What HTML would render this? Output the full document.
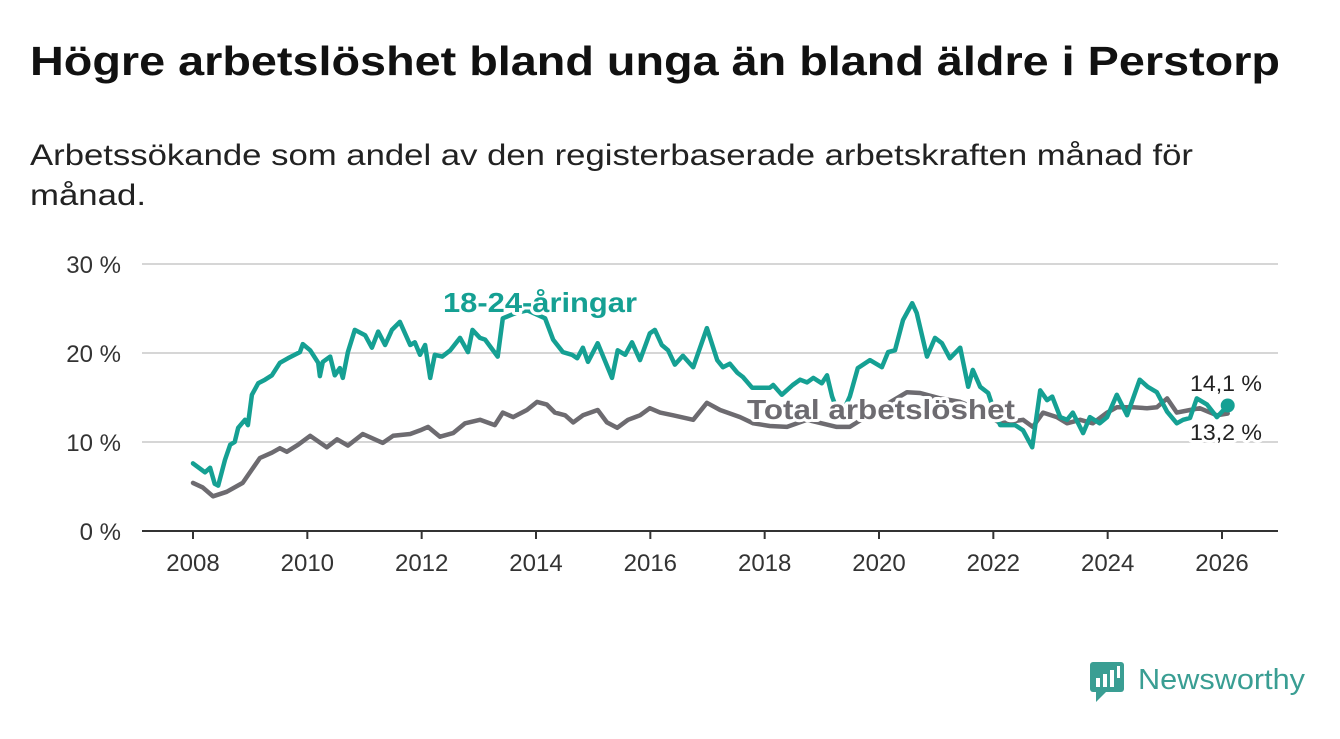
<!DOCTYPE html>
<html><head><meta charset="utf-8"><style>
body{margin:0;background:#fff;width:1340px;height:734px;overflow:hidden;font-family:"Liberation Sans",sans-serif}
</style></head><body>
<svg width="1340" height="734" viewBox="0 0 1340 734" xmlns="http://www.w3.org/2000/svg">
<text x="30" y="75" font-size="41" font-weight="bold" fill="#111" textLength="1250" lengthAdjust="spacingAndGlyphs">Högre arbetslöshet bland unga än bland äldre i Perstorp</text>
<text x="30" y="165" font-size="30" fill="#222" textLength="1163" lengthAdjust="spacingAndGlyphs">Arbetssökande som andel av den registerbaserade arbetskraften månad för</text>
<text x="30" y="205" font-size="30" fill="#222" textLength="116" lengthAdjust="spacingAndGlyphs">månad.</text>
<g id="grid"></g><g id="xaxis"></g><g id="series"></g><g id="labels"></g>
<g>
<rect x="1090" y="662" width="34" height="30" rx="3" fill="#3a9e93"/>
<polygon points="1096,692 1106,692 1096,702" fill="#3a9e93"/>
<rect x="1096" y="678" width="4" height="9" fill="#fff"/><rect x="1103" y="674" width="4" height="13" fill="#fff"/><rect x="1110" y="670" width="4" height="17" fill="#fff"/><rect x="1117" y="666" width="3" height="12" fill="#fff"/>
<text x="1138" y="689" font-size="29" fill="#3a9e93" textLength="167" lengthAdjust="spacingAndGlyphs">Newsworthy</text>
</g>
</svg>
<script>
const yTicks=[0,10,20,30];
const yTickLabels=["0 %","10 %","20 %","30 %"];
const xTicks=[2008,2010,2012,2014,2016,2018,2020,2022,2024,2026];
const youthYears=[2008.00,2008.21,2008.30,2008.38,2008.44,2008.56,2008.65,2008.73,2008.79,2008.91,2008.96,2009.03,2009.14,2009.26,2009.38,2009.52,2009.66,2009.87,2009.92,2010.05,2010.19,2010.22,2010.27,2010.40,2010.48,2010.57,2010.62,2010.71,2010.83,2011.01,2011.13,2011.24,2011.36,2011.48,2011.62,2011.80,2011.88,2011.97,2012.06,2012.15,2012.23,2012.36,2012.50,2012.67,2012.81,2012.89,2013.02,2013.11,2013.33,2013.42,2013.65,2013.85,2014.16,2014.30,2014.47,2014.63,2014.72,2014.82,2014.91,2015.08,2015.33,2015.43,2015.56,2015.68,2015.82,2015.99,2016.08,2016.20,2016.31,2016.43,2016.57,2016.75,2016.99,2017.17,2017.27,2017.39,2017.52,2017.62,2017.78,2018.09,2018.15,2018.30,2018.49,2018.62,2018.74,2018.85,2019.00,2019.09,2019.18,2019.32,2019.49,2019.63,2019.84,2020.05,2020.16,2020.28,2020.42,2020.58,2020.66,2020.84,2020.98,2021.10,2021.24,2021.42,2021.56,2021.64,2021.77,2021.91,2022.01,2022.12,2022.38,2022.52,2022.68,2022.82,2022.94,2023.03,2023.17,2023.29,2023.39,2023.57,2023.69,2023.86,2023.99,2024.16,2024.34,2024.56,2024.70,2024.86,2025.04,2025.21,2025.32,2025.44,2025.56,2025.74,2025.91,2026.10];
const youthValues=[7.6,6.6,7.1,5.3,5.1,8.0,9.7,10.0,11.6,12.5,11.9,15.3,16.6,17.0,17.5,18.9,19.4,20.1,21.0,20.3,18.9,17.4,19.0,19.6,17.5,18.3,17.2,20.1,22.6,22.0,20.6,22.4,20.9,22.6,23.5,20.9,21.2,19.8,20.9,17.2,19.8,19.6,20.3,21.7,20.1,22.6,21.7,21.5,19.6,23.9,24.5,24.8,23.9,21.5,20.1,19.8,19.4,20.6,19.0,21.1,17.2,20.3,19.8,21.2,19.2,22.2,22.6,20.9,20.3,18.7,19.7,18.4,22.8,19.2,18.4,18.8,17.8,17.3,16.1,16.1,16.4,15.3,16.4,17.0,16.7,17.2,16.6,17.5,15.1,12.7,15.1,18.3,19.2,18.4,20.1,20.3,23.7,25.6,24.5,19.6,21.7,21.1,19.4,20.6,16.2,18.1,16.2,15.5,13.6,11.9,11.9,11.3,9.4,15.8,14.7,15.1,12.8,12.5,13.3,11.0,12.8,12.1,12.8,15.3,13.0,17.0,16.2,15.6,13.4,12.1,12.5,12.7,14.9,14.2,12.8,14.1];
const totalYears=[2008.00,2008.17,2008.35,2008.59,2008.87,2009.17,2009.38,2009.52,2009.64,2009.84,2010.05,2010.34,2010.52,2010.71,2010.97,2011.32,2011.50,2011.80,2011.97,2012.11,2012.32,2012.55,2012.76,2013.02,2013.28,2013.42,2013.60,2013.84,2014.02,2014.19,2014.33,2014.51,2014.65,2014.82,2015.08,2015.24,2015.42,2015.61,2015.82,2015.99,2016.17,2016.40,2016.75,2016.99,2017.22,2017.57,2017.80,2018.09,2018.39,2018.74,2019.26,2019.49,2019.89,2020.49,2020.72,2021.07,2021.42,2021.77,2022.12,2022.52,2022.69,2022.87,2023.11,2023.29,2023.52,2023.74,2023.99,2024.16,2024.44,2024.69,2024.86,2025.04,2025.21,2025.44,2025.61,2025.91,2026.10];
const totalValues=[5.4,4.9,3.9,4.4,5.4,8.2,8.8,9.3,8.9,9.7,10.7,9.4,10.3,9.6,10.9,9.9,10.7,10.9,11.3,11.7,10.6,11.0,12.1,12.5,11.9,13.3,12.8,13.6,14.5,14.2,13.3,13.0,12.2,13.0,13.6,12.2,11.6,12.5,13.0,13.8,13.3,13.0,12.5,14.4,13.6,12.8,12.1,11.8,11.7,12.5,11.7,11.7,13.3,15.6,15.5,14.9,14.5,13.6,12.1,12.5,11.7,13.3,12.8,12.1,12.5,12.1,13.3,13.9,13.9,13.8,13.9,14.9,13.3,13.6,13.8,13.0,13.2];
const NS="http://www.w3.org/2000/svg";
const X0=142,X1=1278,Y0=531;
const xs=y=>193+(y-2008)*(1029/18);
const ys=v=>Y0-v*8.9;
function mk(tag,attrs,parent){const e=document.createElementNS(NS,tag);for(const k in attrs)e.setAttribute(k,attrs[k]);parent.appendChild(e);return e;}
const grid=document.getElementById('grid');
yTicks.forEach((t,i)=>{
 const l=mk('line',{x1:X0,x2:X1,y1:ys(t),y2:ys(t),stroke:t===0?'#333':'#d6d6d6','stroke-width':2},grid);
 
 
 const tx=mk('text',{x:121,y:ys(t)+9,'font-size':24,'text-anchor':'end',fill:'#333'},grid);
 tx.textContent=yTickLabels[i];
 
 
});
const xa=document.getElementById('xaxis');
xTicks.forEach(t=>{
 const l=mk('line',{x1:xs(t),x2:xs(t),y1:Y0,y2:Y0+8,stroke:'#333','stroke-width':2},xa);
 
 
 const tx=mk('text',{x:xs(t),y:571,'font-size':24,'text-anchor':'middle',fill:'#333'},xa);
 tx.textContent=t;
 
 
});
const sg=document.getElementById('series');
function line(yrs,vals,col,name){
 const d=yrs.map((y,i)=>(i?'L':'M')+xs(y).toFixed(1)+','+ys(vals[i]).toFixed(1)).join('');
 const p=mk('path',{d:d,fill:'none',stroke:col,'stroke-width':4.5,'stroke-linejoin':'round','stroke-linecap':'round'},sg);
 
 
}
line(totalYears,totalValues,'#6d6b70','total-line');
line(youthYears,youthValues,'#15a093','youth-line');
const lastY=youthYears[youthYears.length-1],lastV=youthValues[youthValues.length-1];
const dot=mk('circle',{cx:xs(lastY),cy:ys(lastV),r:7,fill:'#15a093'},sg);


const lg=document.getElementById('labels');
function lab(x,y,txt,col,size,weight,anchor,name,len){
 const t=mk('text',{x:x,y:y,fill:col,'font-size':size,'font-weight':weight,'text-anchor':anchor,stroke:'#fff','stroke-width':6,'paint-order':'stroke','stroke-linejoin':'round',textLength:len,lengthAdjust:'spacingAndGlyphs'},lg);
 t.textContent=txt;
 
 
}
lab(443,312,'18-24-åringar','#15a093',28,'bold','start','youth-series-label',194);
lab(747,419,'Total arbetslöshet','#6d6b70',28,'bold','start','total-series-label',268);
lab(1262,391,'14,1 %','#222',22,'normal','end','youth-end-value',72);
lab(1262,440,'13,2 %','#222',22,'normal','end','total-end-value',72);
</script>
</body></html>
